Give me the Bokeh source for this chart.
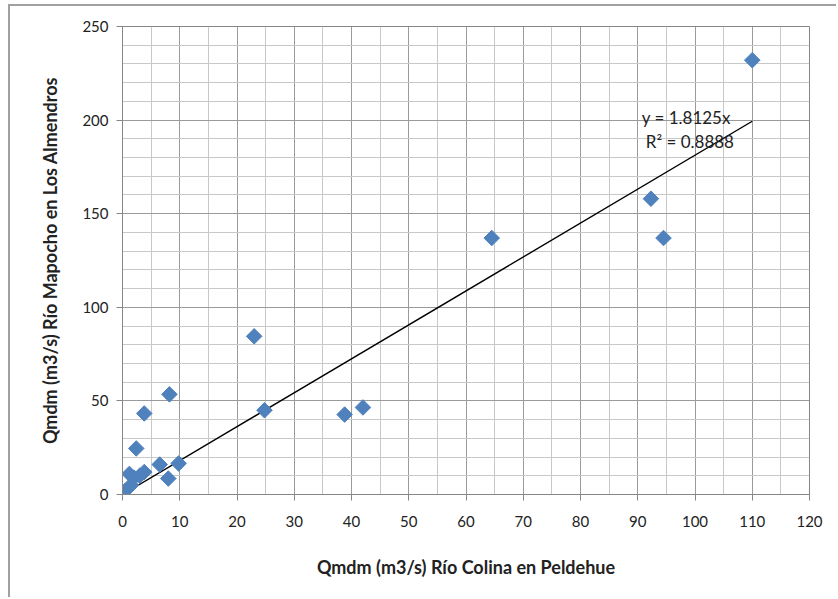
import numpy as np
from bokeh.plotting import figure
from bokeh.models import Range1d, FixedTicker, ColumnDataSource
from bokeh.core.properties import value
from bokeh.embed import file_html
from bokeh.resources import INLINE

# Mean daily maximum flows (m3/s) at the two stations
colina = [110.0, 92.3, 94.5, 64.5, 23.0, 24.8, 38.8, 42.0, 8.2, 3.8, 2.4,
          9.8, 6.5, 8.0, 3.8, 3.0, 2.0, 1.2, 1.5, 0.5]
mapocho = [232.0, 158.0, 137.0, 137.0, 84.5, 45.0, 42.7, 46.5, 53.5, 43.3, 24.6,
           16.6, 16.0, 8.5, 12.0, 10.0, 9.0, 11.0, 5.0, 2.0]

# Linear trend through the origin
slope = 1.8125
r2 = 0.8888
trend_x = [0.0, 110.0]

x_ticks = list(range(0, 121, 10))
x_minor = list(range(5, 120, 10))
y_ticks = list(range(0, 251, 50))
y_minor = [v for v in range(10, 250, 10) if v % 50 != 0]

FONT = "Lato"
GRID_MAJOR = "#9a9a9a"
GRID_MINOR = "#c8c8c8"
AXIS_GREY = "#868686"

p = figure(width=828, height=593, output_backend="svg", toolbar_location=None,
           x_range=Range1d(0, 120), y_range=Range1d(0, 250),
           min_border_left=112, min_border_right=29,
           min_border_top=20, min_border_bottom=105)

# Outer chart border (top and left edges are inside the window)
p.margin = (4, 0, 0, 8)
p.styles = {"border-top": "2px solid #a0a0a0", "border-left": "2px solid #a0a0a0"}

p.background_fill_color = "white"
p.border_fill_color = "white"
p.outline_line_color = AXIS_GREY
p.outline_line_width = 1

p.xaxis.ticker = FixedTicker(ticks=x_ticks, minor_ticks=x_minor)
p.yaxis.ticker = FixedTicker(ticks=y_ticks, minor_ticks=y_minor)

for g in (p.xgrid, p.ygrid):
    g.grid_line_color = GRID_MAJOR
    g.grid_line_width = 1
    g.minor_grid_line_color = GRID_MINOR
    g.minor_grid_line_width = 1

for ax in (p.xaxis, p.yaxis):
    ax.axis_line_color = AXIS_GREY
    ax.major_tick_line_color = AXIS_GREY
    ax.major_tick_in = 0
    ax.major_tick_out = 6
    ax.minor_tick_line_color = None
    ax.major_label_text_font = FONT
    ax.major_label_text_font_size = "15px"
    ax.major_label_text_color = "#222222"
    ax.axis_label_text_font = FONT
    ax.axis_label_text_font_size = "18px"
    ax.axis_label_text_font_style = "bold"
    ax.axis_label_text_color = "#222222"

p.xaxis.axis_label = "Qmdm (m3/s) Río Colina en Peldehue"
p.yaxis.axis_label = "Qmdm (m3/s) Río Mapocho en Los Almendros"
p.xaxis.major_label_standoff = 15
p.xaxis.axis_label_standoff = 26
p.yaxis.major_label_standoff = 8
p.yaxis.axis_label_standoff = 18

# Trend line
p.line(trend_x, [slope * x for x in trend_x], line_color="black", line_width=1.4)

# Observations as diamonds
src = ColumnDataSource(dict(x=colina, y=mapocho))
p.scatter("x", "y", source=src, marker="square", angle=np.pi / 4, size=11,
          fill_color="#4F81BD", line_color="#4F81BD")

# Trend equation and coefficient of determination
eq_src = ColumnDataSource(dict(
    x=[90.7, 91.4],
    y=[201.5, 188.8],
    t=[f"y = {slope}x", f"R² = {r2}"],
))
p.text("x", "y", text="t", source=eq_src, text_font=value(FONT),
       text_font_size="17px", text_color="#222222", text_baseline="alphabetic")

open("out.html", "w").write(file_html(p, INLINE))
